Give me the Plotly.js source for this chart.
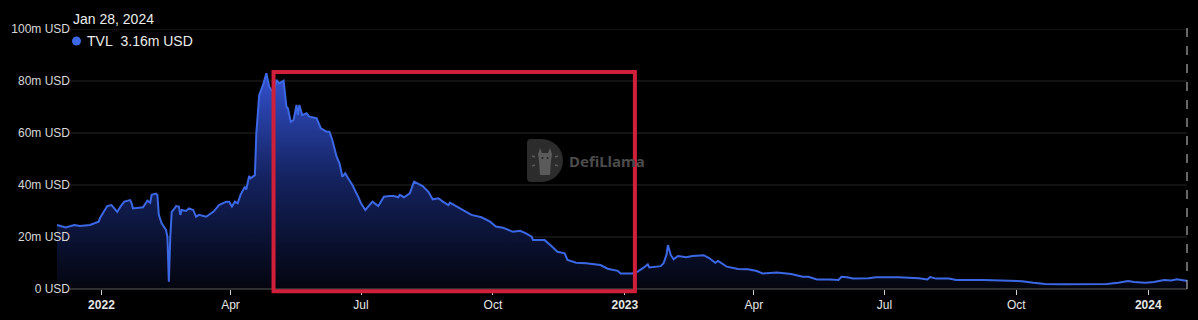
<!DOCTYPE html>
<html>
<head>
<meta charset="utf-8">
<script src="https://cdn.plot.ly/plotly-3.0.1.min.js"></script>
<style>
  html, body { margin: 0; padding: 0; background: #000; }
  #chart { width: 1198px; height: 320px; }
</style>
</head>
<body>
<div id="chart"></div>
<script>
// ---- data (TVL in millions USD) ----
const dates = [
  "2021-12-01","2021-12-07","2021-12-13","2021-12-17","2021-12-24","2021-12-28","2021-12-30","2021-12-31",
  "2022-01-02","2022-01-05","2022-01-08","2022-01-11","2022-01-12","2022-01-15","2022-01-17","2022-01-21",
  "2022-01-22","2022-01-23","2022-01-28","2022-01-30","2022-02-02","2022-02-04","2022-02-05","2022-02-08",
  "2022-02-09","2022-02-10","2022-02-12","2022-02-15","2022-02-16","2022-02-17","2022-02-18","2022-02-19",
  "2022-02-21","2022-02-22","2022-02-24","2022-02-25","2022-02-26","2022-03-01","2022-03-03","2022-03-06",
  "2022-03-08","2022-03-10","2022-03-15","2022-03-20","2022-03-24","2022-03-29","2022-03-31","2022-04-02",
  "2022-04-04","2022-04-06","2022-04-08","2022-04-11","2022-04-12","2022-04-14","2022-04-15","2022-04-18",
  "2022-04-19","2022-04-21","2022-04-24","2022-04-26","2022-04-28","2022-05-01","2022-05-03","2022-05-05",
  "2022-05-08","2022-05-10","2022-05-11","2022-05-13","2022-05-15","2022-05-17","2022-05-18","2022-05-19",
  "2022-05-21","2022-05-24","2022-05-26","2022-05-31","2022-06-03","2022-06-07","2022-06-09","2022-06-11",
  "2022-06-14","2022-06-16","2022-06-18","2022-06-20","2022-06-22","2022-06-25","2022-06-29","2022-07-01",
  "2022-07-04","2022-07-06","2022-07-09","2022-07-13","2022-07-17","2022-07-21","2022-07-24","2022-07-27",
  "2022-07-28","2022-07-31","2022-08-04","2022-08-07","2022-08-10","2022-08-13","2022-08-17","2022-08-20",
  "2022-08-24","2022-08-27","2022-08-31","2022-09-01","2022-09-08","2022-09-16","2022-09-23","2022-09-29",
  "2022-10-03","2022-10-08","2022-10-15","2022-10-20","2022-10-24","2022-10-28","2022-10-29","2022-11-06",
  "2022-11-10","2022-11-15","2022-11-20","2022-11-22","2022-11-28","2022-12-05","2022-12-15","2022-12-20",
  "2022-12-27","2022-12-29","2023-01-06","2023-01-10","2023-01-14","2023-01-17","2023-01-18","2023-01-26",
  "2023-01-28","2023-01-30","2023-01-31","2023-02-02","2023-02-04","2023-02-07","2023-02-13","2023-02-17",
  "2023-02-25","2023-03-01","2023-03-05","2023-03-07","2023-03-13","2023-03-17","2023-03-21","2023-03-28",
  "2023-04-03","2023-04-07","2023-04-17","2023-04-27","2023-05-05","2023-05-09","2023-05-15","2023-05-24",
  "2023-05-30","2023-06-01","2023-06-05","2023-06-09","2023-06-20","2023-06-25","2023-07-11","2023-07-25",
  "2023-07-31","2023-08-02","2023-08-06","2023-08-15","2023-08-20","2023-09-08","2023-09-22","2023-10-05",
  "2023-10-13","2023-10-21","2023-11-01","2023-11-17","2023-12-03","2023-12-11","2023-12-18","2023-12-22",
  "2023-12-30","2024-01-05","2024-01-12","2024-01-17","2024-01-21","2024-01-25","2024-01-28"
];
const tvl = [
  24.6,23.7,24.6,24.2,24.6,25.3,25.9,27.3,
  29.2,31.9,32.3,30.4,29.7,32.3,33.6,34.2,
  33.0,31.0,31.4,31.4,34.0,33.2,36.2,36.7,
  36.2,28.5,25.3,22.7,20.1,2.8,20.1,29.7,
  31.0,31.9,31.7,28.5,30.4,30.0,31.0,30.4,
  27.8,28.5,27.8,29.7,32.3,33.6,33.6,31.7,
  33.6,33.0,36.2,39.3,38.3,43.5,42.6,43.8,
  59.9,74.5,79.1,83.0,77.8,75.3,80.4,79.1,
  80.1,70.1,69.5,64.3,65.0,70.8,66.9,70.8,
  66.9,67.6,66.3,65.7,61.8,60.5,60.5,57.3,
  50.9,48.3,43.2,44.5,42.6,40.0,35.5,33.0,
  30.4,31.7,33.6,31.9,35.5,35.8,35.8,35.3,
  36.2,35.3,36.8,41.3,40.6,39.6,37.4,34.5,
  34.9,33.6,32.3,33.2,31.0,28.5,27.6,25.9,
  24.0,23.6,22.0,22.4,21.4,20.1,18.8,18.8,
  16.9,14.3,13.7,11.2,10.1,9.9,9.2,7.8,
  7.0,6.0,6.0,6.7,8.2,9.5,8.3,8.8,
  9.9,13.1,16.9,13.1,11.4,12.7,12.2,12.7,
  13.0,11.8,10.1,10.8,8.6,8.2,7.7,7.6,
  6.9,6.0,6.3,5.8,4.7,4.7,3.7,3.7,
  3.5,4.7,4.5,4.0,4.1,4.5,4.5,4.1,
  3.7,4.6,4.0,4.0,3.5,3.5,3.3,3.0,
  2.4,1.9,1.8,1.9,1.9,2.4,3.1,2.7,
  2.4,2.7,3.5,3.3,3.7,3.4,3.16
];
const yTickVals = [0, 20, 40, 60, 80, 100];
const yTickText = ["0 USD", "20m USD", "40m USD", "60m USD", "80m USD", "100m USD"];
const xTickVals = ["2022-01-01","2022-04-01","2022-07-01","2022-10-01","2023-01-01","2023-04-01","2023-07-01","2023-10-01","2024-01-01"];
const xTickText = ["<b>2022</b>","Apr","Jul","Oct","<b>2023</b>","Apr","Jul","Oct","<b>2024</b>"];
const seriesName = "TVL";
const hoverLabel = "Jan 28, 2024";
const highlightRange = ["2022-05-01", "2023-01-08"];

// ---- layout geometry (pixels) ----
const W = 1198, H = 320;
const L = 57, R = 1187, T = 29, B = 289;
const GRID_LEFT = 70;
const px = x => (x - L) / (R - L);
const py = y => (B - y) / (B - T);

const FONT = "Liberation Sans, Arial, Helvetica, sans-serif";
const lineColor = "#3c68e6";

const logoSvg = "<svg xmlns='http://www.w3.org/2000/svg' width='36' height='43' viewBox='0 0 36 43'>" +
  "<path d='M4 0 H14.5 A21.5 21.5 0 0 1 14.5 43 H4 A4 4 0 0 1 0 39 V4 A4 4 0 0 1 4 0Z' fill='#2c2c2c'/>" +
  "<path d='M13 9 L15 14 H21 L23 9 L25 15 L24 22 L23 36 H13 L12 22 L11 15Z' fill='#5a5a5a'/>" +
  "<circle cx='15.5' cy='19' r='1' fill='#222'/><circle cx='20.5' cy='19' r='1' fill='#222'/>" +
  "<path d='M5 17 l3 1 M5 27 l3 -1 M31 17 l-3 1 M31 27 l-3 -1' stroke='#5a5a5a' stroke-width='1.5'/>" +
  "</svg>";

const trace = {
  type: "scatter",
  mode: "lines",
  name: seriesName,
  x: dates,
  y: tvl,
  line: { color: lineColor, width: 2 },
  fill: "tozeroy",
  fillgradient: {
    type: "vertical",
    start: 0,
    stop: 85,
    colorscale: [[0, "rgb(3,5,14)"], [0.5, "rgb(20,34,95)"], [1, "rgb(52,84,212)"]]
  },
  hoverinfo: "skip"
};

// grid lines starting a bit right of the data start, as in the reference
const gridShapes = yTickVals.filter(v => v > 0).map(v => ({
  type: "line", xref: "paper", yref: "y", x0: px(GRID_LEFT), x1: 1, y0: v, y1: v,
  line: { color: "#262626", width: 1 }, layer: "below"
}));

const layout = {
  width: W, height: H,
  paper_bgcolor: "#000",
  plot_bgcolor: "#000",
  showlegend: false,
  hovermode: false,
  margin: { l: L, r: W - R, t: T, b: H - B, pad: 0 },
  font: { family: FONT, color: "#dcdcdc", size: 12 },
  xaxis: {
    type: "date",
    range: ["2021-12-01", "2024-01-28"],
    tickmode: "array",
    tickvals: xTickVals,
    ticktext: xTickText,
    ticks: "outside",
    ticklen: 5,
    tickwidth: 1,
    tickcolor: "#d0d0d0",
    showgrid: false,
    showline: false,
    zeroline: false,
    tickfont: { family: FONT, size: 12, color: "#e6e6e6" },
    fixedrange: true
  },
  yaxis: {
    range: [0, 100],
    tickmode: "array",
    tickvals: yTickVals,
    ticktext: yTickText,
    ticks: "",
    showgrid: false,
    zeroline: false,
    showline: false,
    ticklabelstandoff: -14,
    tickfont: { family: FONT, size: 12, color: "#d8d8d8" },
    fixedrange: true
  },
  shapes: gridShapes.concat([
    // x axis baseline
    { type: "line", xref: "paper", yref: "paper", x0: px(GRID_LEFT), x1: 1, y0: 0, y1: 0,
      line: { color: "#5a5a5a", width: 1 }, layer: "above" },
    // dashed crosshair at the hovered date
    { type: "line", xref: "paper", yref: "paper", x0: 1, x1: 1, y0: 0, y1: py(28),
      line: { color: "#cfcfcf", width: 1, dash: "dash" } },
    // highlight box
    { type: "rect", xref: "x", yref: "paper", x0: highlightRange[0], x1: highlightRange[1],
      y0: py(291.3), y1: py(72), line: { color: "#d01f3b", width: 4 }, fillcolor: "rgba(0,0,0,0)" },
    // legend dot
    { type: "circle", xref: "paper", yref: "paper",
      xsizemode: "pixel", ysizemode: "pixel",
      xanchor: px(76.5), yanchor: py(41), x0: -4.5, x1: 4.5, y0: -4.5, y1: 4.5,
      fillcolor: lineColor, line: { width: 0 } }
  ]),
  images: [
    { source: "data:image/svg+xml;charset=utf-8," + encodeURIComponent(logoSvg),
      xref: "paper", yref: "paper", x: px(527), y: py(139),
      sizex: 36 / (R - L), sizey: 43 / (B - T), sizing: "stretch",
      xanchor: "left", yanchor: "top", layer: "above", opacity: 1 }
  ],
  annotations: [
    { text: hoverLabel, xref: "paper", yref: "paper", x: px(71), y: py(19.5),
      xanchor: "left", yanchor: "middle", showarrow: false,
      font: { family: FONT, size: 14, color: "#ececec" } },
    { text: seriesName + "&nbsp;&nbsp;" + tvl[tvl.length - 1].toFixed(2) + "m USD",
      xref: "paper", yref: "paper", x: px(85), y: py(41),
      xanchor: "left", yanchor: "middle", showarrow: false,
      font: { family: FONT, size: 14, color: "#ececec" } },
    { text: "<b>DefiLlama</b>", xref: "paper", yref: "paper", x: px(567), y: py(161),
      xanchor: "left", yanchor: "middle", showarrow: false,
      font: { family: "Noto Sans, Open Sans, sans-serif", size: 15, color: "#4b4b4b" } }
  ]
};

Plotly.newPlot("chart", [trace], layout, { displayModeBar: false, staticPlot: true, responsive: false });
</script>
</body>
</html>
